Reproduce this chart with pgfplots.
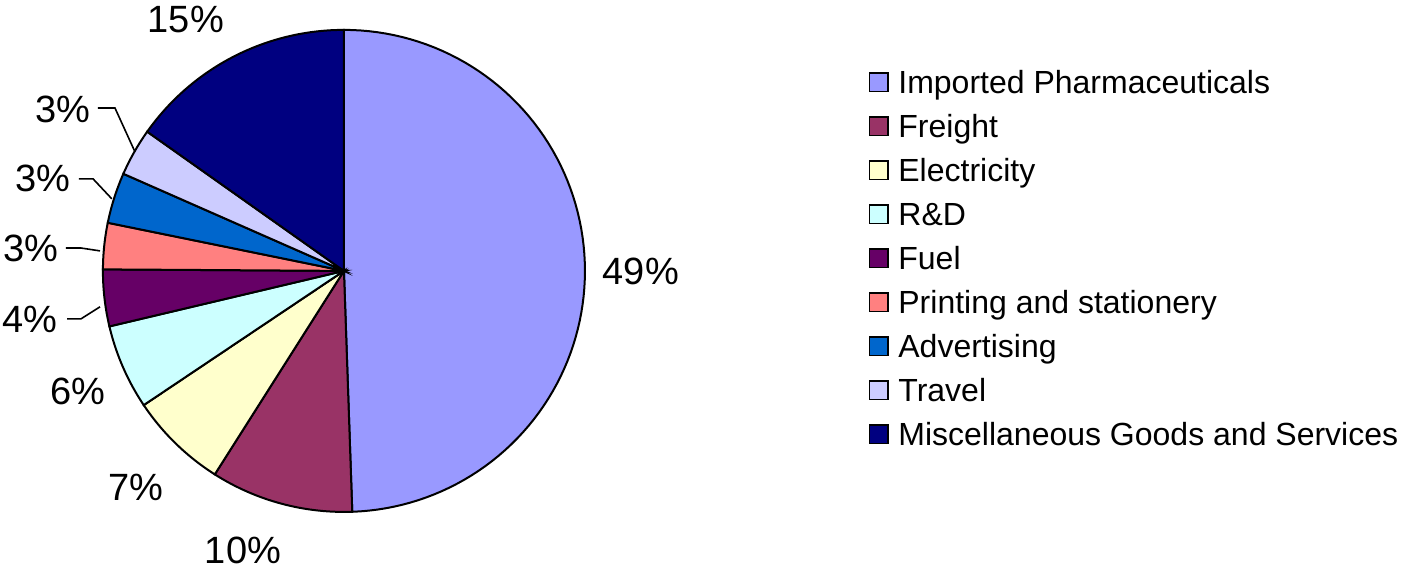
\documentclass[border=0pt]{standalone}
\usepackage{fontspec}
\setmainfont{Liberation Sans}
\usepackage{pgfplots}
\pgfplotsset{compat=1.18}

\definecolor{cPharma}{HTML}{9999FF}
\definecolor{cFreight}{HTML}{993366}
\definecolor{cElec}{HTML}{FFFFCC}
\definecolor{cRD}{HTML}{CCFFFF}
\definecolor{cFuel}{HTML}{660066}
\definecolor{cPrint}{HTML}{FF8080}
\definecolor{cAdv}{HTML}{0066CC}
\definecolor{cTravel}{HTML}{CCCCFF}
\definecolor{cMisc}{HTML}{000080}

\newcommand\pctfont{\fontsize{19}{22}\selectfont}

% slices go clockwise from 12 o'clock
\newcommand\cum{90}
\newcommand\slice[5]{% share in %, colour, name, label x, label y
  \pgfmathsetmacro\angA{\cum}%
  \pgfmathsetmacro\angB{\cum-3.6*#1}%
  \xdef\cum{\angB}%
  \pgfmathtruncatemacro\lbl{round(#1)}%
  \edef\doslice{%
    \noexpand\addplot[fill=#2, draw=black, line width=1pt, domain=\angB:\angA, samples=90]
      ({cos(x)}, {sin(x)}) -- (axis cs:0,0) -- cycle;
    \noexpand\addlegendentry{\noexpand\rule{0pt}{16.5pt}\unexpanded{#3}}
    \noexpand\node[font=\noexpand\pctfont, inner sep=0pt] at (axis cs:#4,#5) {\lbl\noexpand\%};
  }%
  \doslice
}

\begin{document}
\begin{tikzpicture}
\begin{axis}[
    hide axis,
    x=120.5pt, y=120.5pt,
    xmin=-1.427, xmax=4.390,
    ymin=-1.241, ymax=1.124,
    clip=false,
    legend image code/.code={\draw[#1,draw=black,line width=0.8pt] (0pt,-4.6pt) rectangle (9.2pt,4.6pt);},
    legend cell align=left,
    legend style={draw=none, fill=none, inner sep=0pt,
        at={(axis cs:2.176,0.876)}, anchor=north west,
        font=\fontsize{16}{22}\selectfont, row sep=0pt,
        nodes={inner sep=0pt, text depth=5.5pt},
        /tikz/every odd column/.append style={column sep=4.8pt}},
  ]
  % invisible frame: keeps the page at the reference's size
  \path (axis cs:-1.427,-1.241) rectangle (axis cs:4.390,1.124);
  \slice{49.45}{cPharma}{Imported Pharmaceuticals}{1.232}{-0.004}
  \slice{9.55}{cFreight}{Freight}{-0.419}{-1.158}
  \slice{6.6}{cElec}{Electricity}{-0.863}{-0.900}
  \slice{5.7}{cRD}{R\&D}{-1.104}{-0.502}
  \slice{3.8}{cFuel}{Fuel}{-1.303}{-0.203}
  \slice{3.1}{cPrint}{Printing and stationery}{-1.299}{0.095}
  \slice{3.4}{cAdv}{Advertising}{-1.249}{0.382}
  \slice{3.2}{cTravel}{Travel}{-1.166}{0.672}
  \slice{15.2}{cMisc}{Miscellaneous Goods and Services}{-0.656}{1.041}
  % leader lines of the small slices
  \draw[line width=0.8pt] (axis cs:-1.149,-0.199) -- (axis cs:-1.091,-0.199) -- (axis cs:-1.012,-0.149);
  \draw[line width=0.8pt] (axis cs:-1.154,0.095) -- (axis cs:-1.091,0.095) -- (axis cs:-1.012,0.083);
  \draw[line width=0.8pt] (axis cs:-1.100,0.382) -- (axis cs:-1.041,0.382) -- (axis cs:-0.963,0.299);
  \draw[line width=0.8pt] (axis cs:-1.021,0.676) -- (axis cs:-0.950,0.676) -- (axis cs:-0.867,0.494);
\end{axis}
\end{tikzpicture}
\end{document}
